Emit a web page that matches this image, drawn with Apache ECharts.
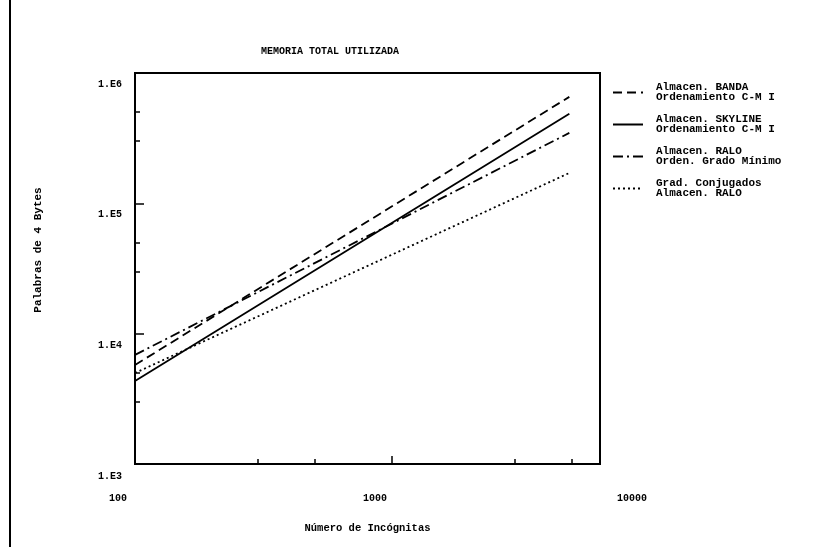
<!DOCTYPE html>
<html><head><meta charset="utf-8">
<script src="https://cdn.jsdelivr.net/npm/echarts@6/dist/echarts.min.js"></script>
<style>html,body{margin:0;padding:0;background:#fff}#c{width:831px;height:547px}</style>
</head><body><div id="c"></div>
<script>
const xValues = [100, 4900];
const banda = [5750, 656000];
const skyline = [4330, 486000];
const ralo = [6870, 347000];
const gradConj = [4990, 171000];
const seriesNames = ['Almacen. BANDA\nOrdenamiento C-M I', 'Almacen. SKYLINE\nOrdenamiento C-M I', 'Almacen. RALO\nOrden. Grado Mínimo', 'Grad. Conjugados\nAlmacen. RALO'];
const xTickLabels = {100: '100', 1000: '1000', 10000: '10000'};
const yTickLabels = {3: '1.E3', 4: '1.E4', 5: '1.E5', 6: '1.E6'};
const xMajorTicks = [1000];
const xMinorTicks = [300, 500, 3000, 5000];
const yMajorTicks = [10000, 100000];
const yMinorTicks = [3000, 5000, 30000, 50000, 300000, 500000];

const F = 'Liberation Mono';
const txt = {fontFamily: F, fontWeight: 'bold', color: '#000', fontSize: 10};
const chart = echarts.init(document.getElementById('c'), null, {renderer: 'canvas'});
function pairs(ys) { return xValues.map((x, i) => [x, ys[i]]); }
const styles = [
  {type: [9, 5], width: 1.8},
  {type: 'solid', width: 1.8},
  {type: [10, 4, 2, 4], width: 1.8},
  {type: [2, 3], width: 1.8}
];
const datas = [banda, skyline, ralo, gradConj];
const hidden = {axisLine: {show: false}, axisTick: {show: false}, splitLine: {show: false}, axisLabel: {show: false}};
chart.setOption({
  animation: false,
  title: {text: 'MEMORIA TOTAL UTILIZADA', left: 325, top: 41, textAlign: 'center',
    textStyle: Object.assign({}, txt, {fontSize: 10})},
  grid: [
    {left: 135, right: 231, top: 73, bottom: 83, show: true, borderColor: '#000', borderWidth: 2},
    {left: 118, right: 199, top: 84, bottom: 71, show: false},
    {left: 135, right: 231, top: 73, bottom: 120, show: false},
    {left: 132, right: 231, top: 84, bottom: 71, show: false}
  ],
  legend: {orient: 'vertical', left: 607, top: 77, itemWidth: 30, itemHeight: 10, itemGap: 11,
    itemStyle: {opacity: 0},
    textStyle: Object.assign({}, txt, {fontSize: 11, lineHeight: 10, padding: [0, 0, 0, 8]}),
    data: seriesNames.map(n => ({name: n}))},
  xAxis: [
    {type: 'log', gridIndex: 0, min: 100, max: 6450, logBase: 10,
      name: 'Número de Incógnitas', nameLocation: 'middle', nameGap: 59,
      nameTextStyle: Object.assign({}, txt, {fontSize: 10.5}),
      axisLine: {show: true, lineStyle: {color: '#000', width: 2}},
      axisTick: {show: true, inside: true, length: 8, customValues: xMajorTicks, lineStyle: {color: '#000', width: 1.5}},
      axisLabel: {show: false}, splitLine: {show: false}},
    {type: 'log', gridIndex: 1, min: 100, max: 10000, logBase: 10,
      axisLine: {show: false}, axisTick: {show: false}, splitLine: {show: false},
      axisLabel: Object.assign({}, txt, {margin: 17, formatter: v => xTickLabels[Math.round(v)] || ''})},
    Object.assign({type: 'log', gridIndex: 0, min: 100, max: 6450, logBase: 10, position: 'bottom'}, hidden,
      {axisTick: {show: true, inside: true, length: 5, customValues: xMinorTicks, lineStyle: {color: '#000', width: 1.5}}}),
    Object.assign({type: 'log', gridIndex: 2, min: 100, max: 6450, logBase: 10}, hidden),
    Object.assign({type: 'log', gridIndex: 3, min: 100, max: 6450, logBase: 10}, hidden)
  ],
  yAxis: [
    {type: 'log', gridIndex: 0, min: 1000, max: 1000000, logBase: 10,
      axisLine: {show: true, lineStyle: {color: '#000', width: 2}},
      axisTick: {show: true, inside: true, length: 9, customValues: yMajorTicks, lineStyle: {color: '#000', width: 1.5}},
      axisLabel: {show: false}, splitLine: {show: false}},
    Object.assign({type: 'log', gridIndex: 1, min: 1000, max: 1000000, logBase: 10}, hidden),
    Object.assign({type: 'log', gridIndex: 0, min: 1000, max: 1000000, logBase: 10, position: 'left'}, hidden,
      {axisTick: {show: true, inside: true, length: 5, customValues: yMinorTicks, lineStyle: {color: '#000', width: 1.5}}}),
    Object.assign({type: 'log', gridIndex: 2, min: 1000, max: 1000000, logBase: 10,
      name: 'Palabras de 4 Bytes', nameLocation: 'middle', nameGap: 91,
      nameTextStyle: Object.assign({}, txt, {fontSize: 11})}, hidden),
    {type: 'log', gridIndex: 3, min: 1000, max: 1000000, logBase: 10,
      axisLine: {show: false}, axisTick: {show: false}, splitLine: {show: false},
      axisLabel: Object.assign({}, txt, {margin: 10, formatter: v => yTickLabels[Math.round(Math.log10(v))] || ''})}
  ],
  graphic: [{type: 'line', shape: {x1: 10, y1: 0, x2: 10, y2: 547}, style: {stroke: '#000', lineWidth: 2}}],
  series: datas.map((d, i) => ({
    name: seriesNames[i], type: 'line', xAxisIndex: 0, yAxisIndex: 0,
    data: pairs(d), showSymbol: false, symbol: 'none',
    lineStyle: Object.assign({color: '#000'}, styles[i]),
    itemStyle: {color: '#000'}
  }))
});
</script></body></html>
